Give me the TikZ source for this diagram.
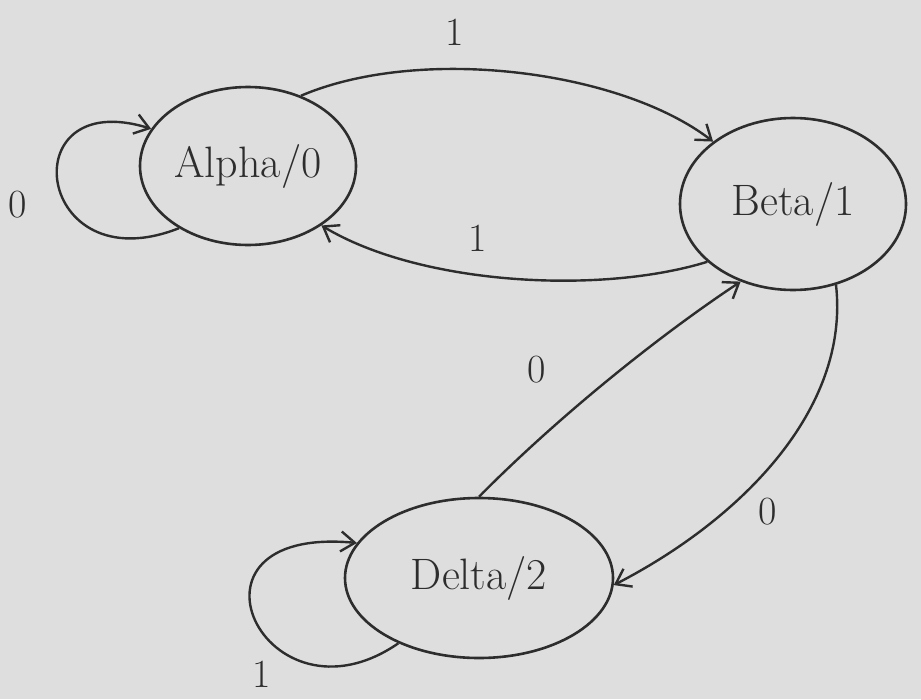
\documentclass[tikz,border=0pt]{standalone}
\usetikzlibrary{shapes.geometric,arrows.meta}
\definecolor{paper}{RGB}{222,222,222}
\definecolor{ink}{RGB}{45,45,45}
\begin{document}
\begin{tikzpicture}[x=1pt,y=-1pt,
  state/.style={ellipse,draw=ink,line width=2.6pt,inner sep=0pt,font=\fontsize{44}{48}\selectfont,text=ink},
  edge/.style={draw=ink,line width=2.4pt,-{Straight Barb[length=14pt,width=20pt,line width=2.4pt]}},
  lbl/.style={font=\fontsize{40}{44}\selectfont,text=ink}]
\fill[paper] (0,0) rectangle (921,699);
\useasboundingbox (0,0) rectangle (921,699);
\node[state,minimum width=216pt,minimum height=158pt] (A) at (248,166) {Alpha/0};
\node[state,minimum width=226pt,minimum height=172pt] (B) at (793,204) {Beta/1};
\node[state,minimum width=268pt,minimum height=160pt] (D) at (479,578) {Delta/2};
\draw[edge] (A.53) .. controls (420,45) and (620,70) .. (B.142);
\draw[edge] (B.214) .. controls (600,295) and (420,285) .. (A.321);
\draw[edge] (A.222) .. controls (35,285) and (10,85) .. (A.159);
\draw[edge] (D.90) .. controls (560,415) and (660,335) .. (B.236);
\draw[edge] (B.298) .. controls (850,410) and (740,520) .. (D.357);
\draw[edge] (D.219) .. controls (265,735) and (165,525) .. (D.164);
\node[lbl] (l1) at (455,32) {1};
\node[lbl] (l2) at (478,238) {1};
\node[lbl] (l3) at (18,205) {0};
\node[lbl] (l4) at (537,370) {0};
\node[lbl] (l5) at (768,512) {0};
\node[lbl] (l6) at (262,674) {1};
\end{tikzpicture}
\end{document}
